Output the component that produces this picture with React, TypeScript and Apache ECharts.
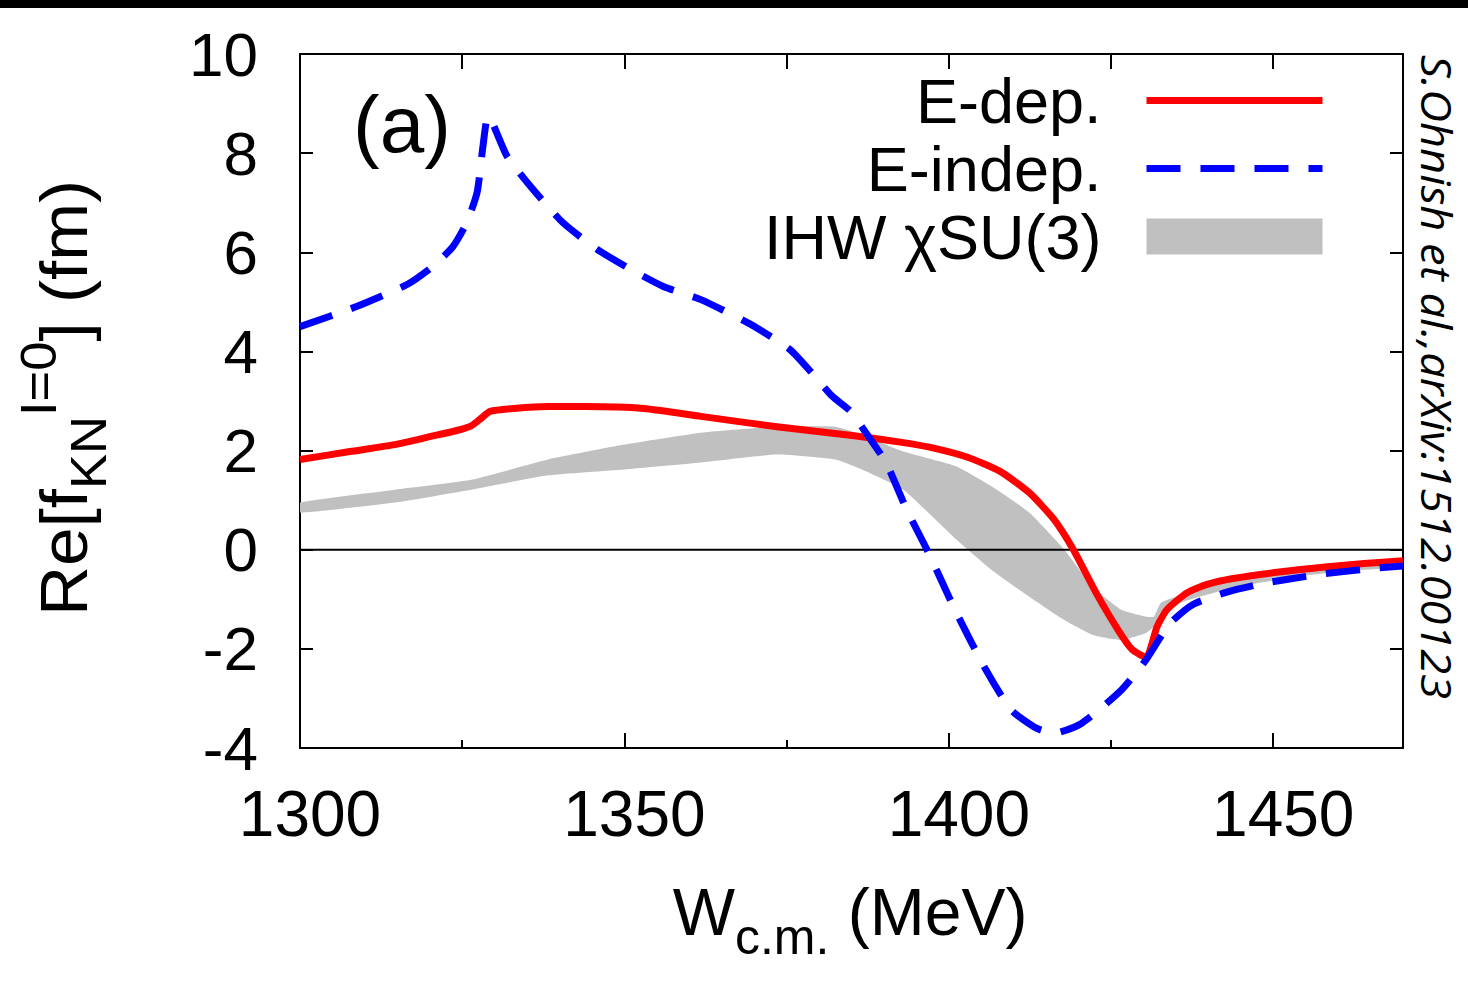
import React, { useEffect, useRef } from 'react';
import * as echarts from 'echarts';

// E-dep. (red solid)
const RED_W = [1300, 1307.7, 1314.6, 1320, 1324, 1326.4, 1328, 1329.3, 1333, 1338.2, 1344, 1353, 1361.8, 1373.5, 1385.4, 1393, 1398, 1403, 1407.9, 1412.4, 1416.2, 1419.2, 1422.7, 1426.1, 1428.3, 1430.4, 1432.1, 1433.6, 1436.7, 1439.8, 1443.8, 1450.9, 1458, 1464, 1470];
const RED_V = [1.82, 1.98, 2.12, 2.28, 2.4, 2.5, 2.66, 2.79, 2.85, 2.89, 2.89, 2.85, 2.69, 2.48, 2.3, 2.16, 2.04, 1.86, 1.58, 1.15, 0.61, 0, -0.87, -1.62, -2.02, -2.17, -1.55, -1.21, -0.87, -0.7, -0.58, -0.45, -0.35, -0.28, -0.22];

// E-indep. (blue dashed)
const BLUE_W = [1300, 1308.8, 1316.5, 1320.5, 1323.6, 1325.7, 1327.3, 1328.2, 1329, 1331.9, 1335.9, 1340.5, 1345.8, 1350.9, 1356, 1361.7, 1369.4, 1375.5, 1379, 1382, 1384.8, 1386.9, 1390.3, 1393.5, 1396.9, 1401.2, 1405.7, 1409.6, 1413.5, 1416.2, 1420.5, 1426.6, 1430.4, 1434, 1437.7, 1443, 1448.5, 1457, 1466, 1470];
const BLUE_V = [4.5, 4.91, 5.35, 5.72, 6.12, 6.6, 7.21, 8.14, 8.75, 7.94, 7.27, 6.6, 6.06, 5.66, 5.31, 5.05, 4.55, 4.04, 3.55, 3.1, 2.8, 2.42, 1.76, 0.81, -0.07, -1.28, -2.42, -3.23, -3.6, -3.7, -3.5, -2.83, -2.22, -1.5, -1.1, -0.85, -0.68, -0.5, -0.37, -0.33];

// IHW chiSU(3) band
const BAND_W = [1300, 1314.6, 1326.4, 1338.2, 1350, 1361.8, 1373.5, 1382.5, 1386.6, 1393, 1401.2, 1406.7, 1412.4, 1417.8, 1422.2, 1426.6, 1430.4, 1431.6, 1432.7, 1437, 1444, 1452, 1460, 1470];
const BAND_HI = [0.95, 1.21, 1.41, 1.82, 2.12, 2.36, 2.48, 2.48, 2.32, 1.98, 1.68, 1.27, 0.75, 0, -0.75, -1.21, -1.35, -1.35, -1.07, -0.87, -0.62, -0.45, -0.33, -0.23];
const BAND_LO = [0.75, 0.95, 1.21, 1.5, 1.62, 1.76, 1.92, 1.82, 1.62, 1.21, 0.2, -0.42, -0.95, -1.42, -1.72, -1.82, -1.68, -1.55, -1.25, -1.01, -0.76, -0.58, -0.44, -0.35];

const X_MIN = 1300;
const X_MAX = 1470;
const Y_MIN = -4;
const Y_MAX = 10;

const NAME_RED = 'E-dep.';
const NAME_BLUE = 'E-indep.';
const NAME_BAND = 'IHW χSU(3)';

export default function App() {
  const ref = useRef<HTMLDivElement>(null);

  useEffect(() => {
    if (!ref.current) return;
    const chart = echarts.init(ref.current, null, { renderer: 'svg' });
    const FONT = "'Liberation Sans', Arial, Helvetica, sans-serif";
    const redData = RED_W.map((w, i) => [w, RED_V[i]]);
    const blueData = BLUE_W.map((w, i) => [w, BLUE_V[i]]);
    const bandData = BAND_W.map((w, i) => [w, BAND_LO[i], BAND_HI[i]]);
    const axisLineStyle = { color: '#000', width: 2 };
    const tickStyle = { color: '#000', width: 2 };

    const richLabel = {
      m: { fontSize: 66, fontFamily: FONT, lineHeight: 100, verticalAlign: 'middle', fill: '#000', color: '#000' },
      s: { fontSize: 50, fontFamily: FONT, verticalAlign: 'bottom', fill: '#000', color: '#000' },
      p: { fontSize: 50, fontFamily: FONT, verticalAlign: 'top', fill: '#000', color: '#000' },
    };

    const option: any = {
      animation: false,
      backgroundColor: '#ffffff',
      grid: { left: 300, right: 65, top: 54, bottom: 234, containLabel: false },
      xAxis: [
        {
          type: 'value', min: X_MIN, max: X_MAX, interval: 50, position: 'bottom',
          axisLine: { show: true, onZero: false, lineStyle: axisLineStyle },
          axisTick: { show: true, inside: true, length: 15, lineStyle: tickStyle },
          axisLabel: {
            color: '#000', fontSize: 64, fontFamily: FONT, margin: 34, showMaxLabel: false,
            padding: [0, 0, 0, 20], formatter: (v: number) => String(v),
          },
          splitLine: { show: false },
        },
        {
          type: 'value', min: X_MIN, max: X_MAX, interval: 25, position: 'top',
          axisLine: { show: true, onZero: false, lineStyle: axisLineStyle },
          axisTick: { show: true, inside: true, length: 15, lineStyle: tickStyle },
          axisLabel: { show: false },
          splitLine: { show: false },
        },
        {
          type: 'value', min: X_MIN, max: X_MAX, interval: 25, position: 'bottom',
          axisLine: { show: false, onZero: false },
          axisTick: { show: true, inside: true, length: 8, lineStyle: tickStyle },
          axisLabel: { show: false },
          splitLine: { show: false },
        },
      ],
      yAxis: [
        {
          type: 'value', min: Y_MIN, max: Y_MAX, interval: 2, position: 'left',
          axisLine: { show: true, onZero: false, lineStyle: axisLineStyle },
          axisTick: { show: true, inside: true, length: 13, lineStyle: tickStyle },
          axisLabel: { color: '#000', fontSize: 62, fontFamily: FONT, margin: 42 },
          splitLine: { show: false },
        },
        {
          type: 'value', min: Y_MIN, max: Y_MAX, interval: 2, position: 'right',
          axisLine: { show: true, onZero: false, lineStyle: axisLineStyle },
          axisTick: { show: true, inside: true, length: 13, lineStyle: tickStyle },
          axisLabel: { show: false },
          splitLine: { show: false },
        },
      ],
      legend: {
        data: [
          { name: NAME_RED, itemStyle: { opacity: 0 } },
          { name: NAME_BLUE, itemStyle: { opacity: 0 } },
          { name: NAME_BAND, icon: 'rect' },
        ],
        orient: 'vertical', right: 142, top: 69, align: 'right', padding: 0,
        itemGap: 5, itemWidth: 176, itemHeight: 36, selectedMode: false,
        textStyle: { fontSize: 63, fontFamily: FONT, color: '#000', padding: [0, 40, 0, 0] },
        lineStyle: { width: 'inherit' },
      },
      graphic: [
        { type: 'rect', shape: { x: 0, y: 0, width: 1468, height: 8 }, style: { fill: '#000' }, z: 100 },
        { type: 'text', x: 353, y: 124, style: { text: '(a)', font: `80px ${FONT}`, fill: '#000', align: 'left', verticalAlign: 'middle' }, z: 100 },
        {
          type: 'text', x: 64, y: 398, rotation: Math.PI / 2, scaleX: 1.05,
          style: { text: '{m|Re[f}{s|KN}{p|I=0}{m|] (fm)}', rich: richLabel, align: 'center', verticalAlign: 'middle', fill: '#000' },
          z: 100,
        },
        {
          type: 'text', x: 850, y: 912,
          style: { text: '{m|W}{s|c.m.}{m| (MeV)}', rich: richLabel, align: 'center', verticalAlign: 'middle', fill: '#000' },
          z: 100,
        },
        {
          type: 'text', x: 1437, y: 55, rotation: -Math.PI / 2, scaleX: 1.08,
          style: { text: 'S.Ohnish et al.,arXiv:1512.00123', font: `italic 42px 'Open Sans', 'Noto Sans', sans-serif`, fill: '#000', align: 'left', verticalAlign: 'middle' },
          z: 100,
        },
      ],
      series: [
        {
          type: 'custom', name: NAME_BAND, xAxisIndex: 0, yAxisIndex: 0, data: bandData,
          encode: { x: 0, y: [1, 2] }, itemStyle: { color: '#c0c0c0' }, clip: true, z: 1,
          renderItem: (params: any, api: any) => {
            if (params.dataIndex !== 0) return null;
            const pts: number[][] = [];
            for (let i = 0; i < bandData.length; i++) pts.push(api.coord([bandData[i][0], bandData[i][2]]));
            for (let i = bandData.length - 1; i >= 0; i--) pts.push(api.coord([bandData[i][0], bandData[i][1]]));
            return { type: 'polygon', shape: { points: pts, smooth: 0.15 }, style: { fill: '#c0c0c0', stroke: 'none' } };
          },
        },
        {
          type: 'line', name: 'zero', data: [[X_MIN, 0], [X_MAX, 0]], symbol: 'none', silent: true,
          lineStyle: { color: '#000', width: 2 }, itemStyle: { color: '#000' }, z: 2,
        },
        {
          type: 'line', name: NAME_RED, data: redData, symbol: 'none', showSymbol: false, smooth: 0.2,
          lineStyle: { color: '#ff0000', width: 7, cap: 'butt', join: 'round' }, itemStyle: { color: '#ff0000' }, z: 3,
        },
        {
          type: 'line', name: NAME_BLUE, data: blueData, symbol: 'none', showSymbol: false, smooth: 0.2,
          lineStyle: { color: '#0000ff', width: 7, type: [34, 20], cap: 'butt', join: 'round' }, itemStyle: { color: '#0000ff' }, z: 4,
        },
      ],
    };
    chart.setOption(option);
    return () => chart.dispose();
  }, []);

  return (
    <div
      ref={ref}
      style={{ position: 'fixed', left: 0, top: 0, width: 1468, height: 982, background: '#fff' }}
    />
  );
}
